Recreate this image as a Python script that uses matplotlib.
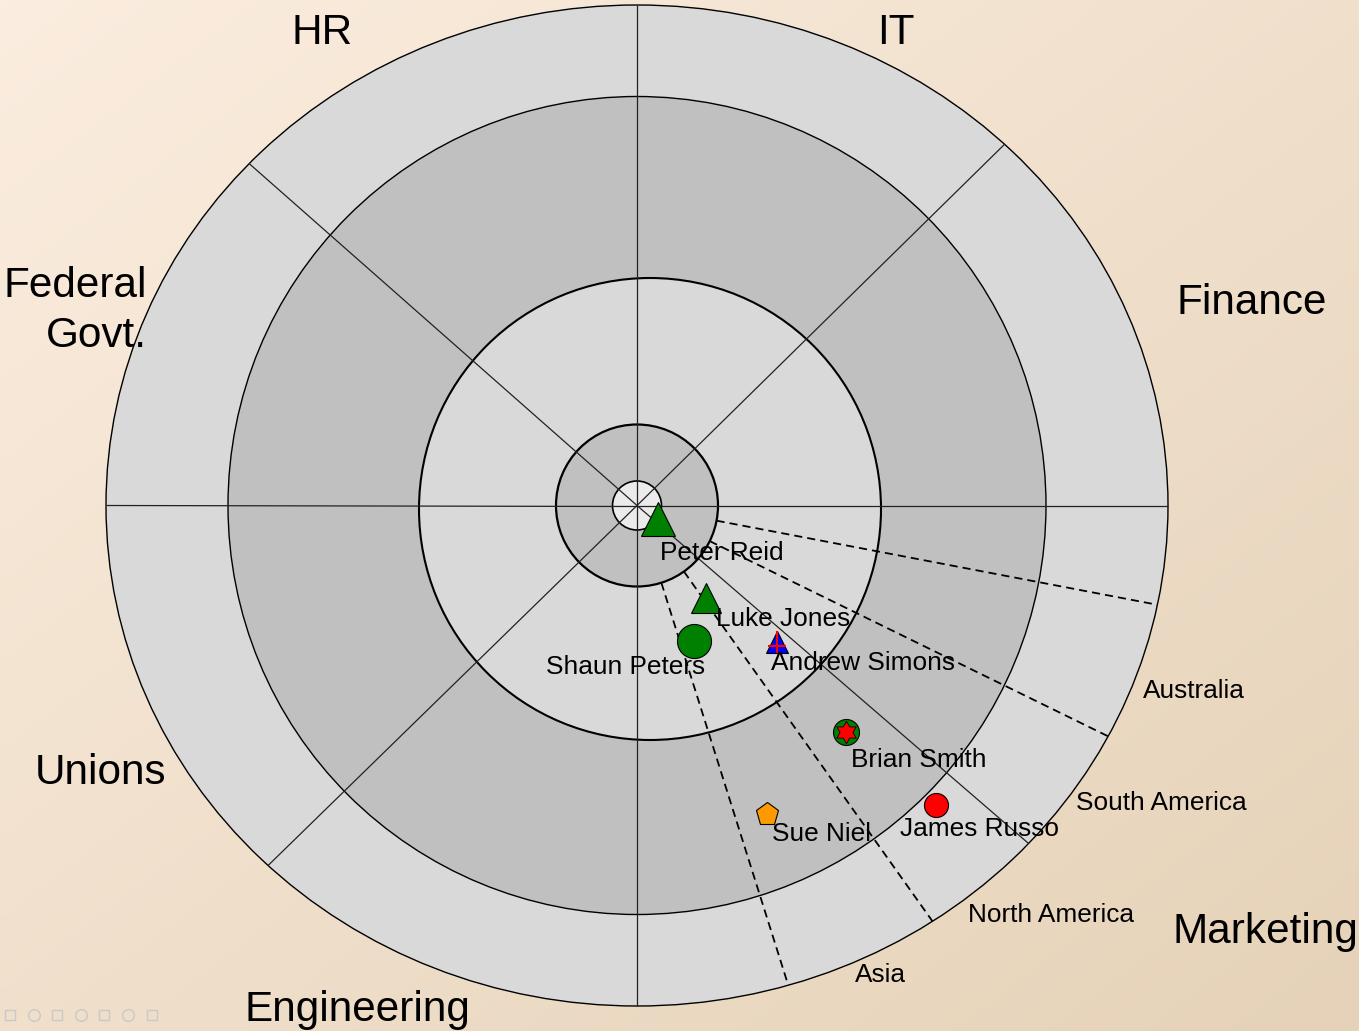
import numpy as np
import matplotlib
matplotlib.use("Agg")
import matplotlib.pyplot as plt
from matplotlib.patches import Ellipse, Circle
from matplotlib.path import Path
from matplotlib.colors import LinearSegmentedColormap

# ---------------- data ----------------
sectors = ["HR", "IT", "Finance", "Marketing", "Engineering", "Unions", "Federal\nGovt."]
regions = ["Australia", "South America", "North America", "Asia"]
names = ["Peter Reid", "Luke Jones", "Shaun Peters", "Andrew Simons",
         "Brian Smith", "James Russo", "Sue Niel"]
# stakeholder positions on the map (chart units, centre = 0,0)
pos_x = [21, 69, 57, 140, 209, 299, 130]
pos_y = [-13.5, -92, -135, -136, -226, -299, -308]

# ---------------- layout / styles ----------------
W, H = 1359, 1031
CX, CY = 637, 505.5
OUT_A, OUT_B = 531, 500.5
sector_bounds = [90, 44.5, 0, -40.8, -90, -135.7, 180, 138.6]
region_bounds = [-10.8, -26.1, -54.6, -72.5]

sector_label_pos = [(-315, 477.5), (259, 477.5), (615, 207.5), (628, -422.5),
                    (-280, -500.5), (-536, -262.5), (-490, 194.5)]
region_label_pos = [(557, -182.5), (524, -294.5), (414.5, -406.5), (243, -467)]
label_offsets = [(64, -31), (77, -19), (-68, -24), (86, -19), (73, -26), (44, -22), (55, -18)]

marker_kind = ['^', '^', 'o', '^', 'o', 'o', 'p']
marker_size = [24, 21, 24.5, 16.5, 18.7, 17.3, 17.4]
marker_color = ['#008000', '#008000', '#008000', '#0000FF', '#008000', '#FF0000', '#FF9900']
overlay = [None, None, None, 'cross', 'star', None, None]

FONT = 'Liberation Sans'

fig = plt.figure(figsize=(W / 100, H / 100), dpi=100)
ax = fig.add_axes([0, 0, 1, 1])
ax.set_xlim(-CX, W - CX)
ax.set_ylim(CY - H, CY)
ax.axis('off')

# background gradient
yy, xx = np.mgrid[0:1:300j, 0:1:300j]
t = (xx + yy) / 2
cmap = LinearSegmentedColormap.from_list('bg', ['#FBEDDF', '#E5D2B8'])
ax.imshow(t, cmap=cmap, extent=(-CX, W - CX, CY - H, CY), origin='upper',
          aspect='auto', zorder=0, interpolation='bilinear')

# rings
ax.add_patch(Ellipse((0, 0), 2 * OUT_A, 2 * OUT_B, fc='#D9D9D9', ec='black', lw=1.0, zorder=1))
ax.add_patch(Circle((0, 0), 409, fc='#C0C0C0', ec='black', lw=1.0, zorder=2))
ax.add_patch(Circle((13, -3.5), 231, fc='#D9D9D9', ec='black', lw=1.5, zorder=3))
ax.add_patch(Circle((0, 0), 81, fc='#C0C0C0', ec='black', lw=1.6, zorder=4))
ax.add_patch(Circle((0, 0), 24.5, fc='#EBEBEB', ec='black', lw=1.2, zorder=5))


def ell_r(a_deg):
    a = np.deg2rad(a_deg)
    return 1.0 / np.sqrt((np.cos(a) / OUT_A) ** 2 + (np.sin(a) / OUT_B) ** 2)


for a in sector_bounds:
    r = ell_r(a)
    ar = np.deg2rad(a)
    ax.plot([0, r * np.cos(ar)], [0, r * np.sin(ar)], color='#222222', lw=0.9,
            zorder=6, solid_capstyle='butt')

for a in region_bounds:
    r0, r1 = 81, ell_r(a)
    ar = np.deg2rad(a)
    ax.plot([r0 * np.cos(ar), r1 * np.cos(ar)], [r0 * np.sin(ar), r1 * np.sin(ar)],
            color='black', lw=1.3, ls=(0, (4.5, 2.8)), zorder=6)

# custom overlay markers
ang = np.deg2rad(90 + np.arange(12) * 30)
rad = np.where(np.arange(12) % 2 == 0, 1.0, 1 / np.sqrt(3))
star_verts = np.column_stack([rad * np.cos(ang), rad * np.sin(ang)])
star_verts = np.vstack([star_verts, star_verts[:1]])
star_path = Path(star_verts)
cross_path = Path([(0, 1), (0, -1), (-0.8, -0.35), (0.8, -0.35)],
                  [Path.MOVETO, Path.LINETO, Path.MOVETO, Path.LINETO])

for i, name in enumerate(names):
    x, y = pos_x[i], pos_y[i]
    ax.plot([x], [y], marker=marker_kind[i], ms=marker_size[i],
            mfc=marker_color[i], mec='black', mew=0.8, ls='none', zorder=8)
    if overlay[i] == 'star':
        ax.plot([x], [y], marker=star_path, ms=marker_size[i] * 0.86,
                mfc='#FF0000', mec='black', mew=0.6, ls='none', zorder=9)
    elif overlay[i] == 'cross':
        ax.plot([x], [y], marker=cross_path, ms=marker_size[i],
                mfc='none', mec='#FF0000', mew=1.5, ls='none', zorder=9)
    ax.annotate(name, xy=(x, y), xytext=label_offsets[i], textcoords='offset pixels',
                ha='center', va='center_baseline', fontsize=18.9, family=FONT,
                color='black', zorder=10)

# sector labels
for lab, (lx, ly) in zip(sectors, sector_label_pos):
    if '\n' in lab:
        ax.text(lx, ly, lab, ha='right', va='center', multialignment='right',
                fontsize=30.4, family=FONT, linespacing=1.33, zorder=10)
    else:
        ax.text(lx, ly, lab, ha='center', va='center_baseline',
                fontsize=30.4, family=FONT, zorder=10)

# region labels
for lab, (lx, ly) in zip(regions, region_label_pos):
    ax.text(lx, ly, lab, ha='center', va='center_baseline', fontsize=18.9,
            family=FONT, zorder=10)

# faint navigation icons bottom-left
for k in range(7):
    ax.plot([10 + k * 23.6 - CX], [CY - 1015], marker='s' if k % 2 == 0 else 'o',
            ms=7.4 if k % 2 == 0 else 8.4, mfc='none', mec='#C9C9C9', mew=1.0,
            ls='none', zorder=10)

fig.savefig('out.png', dpi=100)
